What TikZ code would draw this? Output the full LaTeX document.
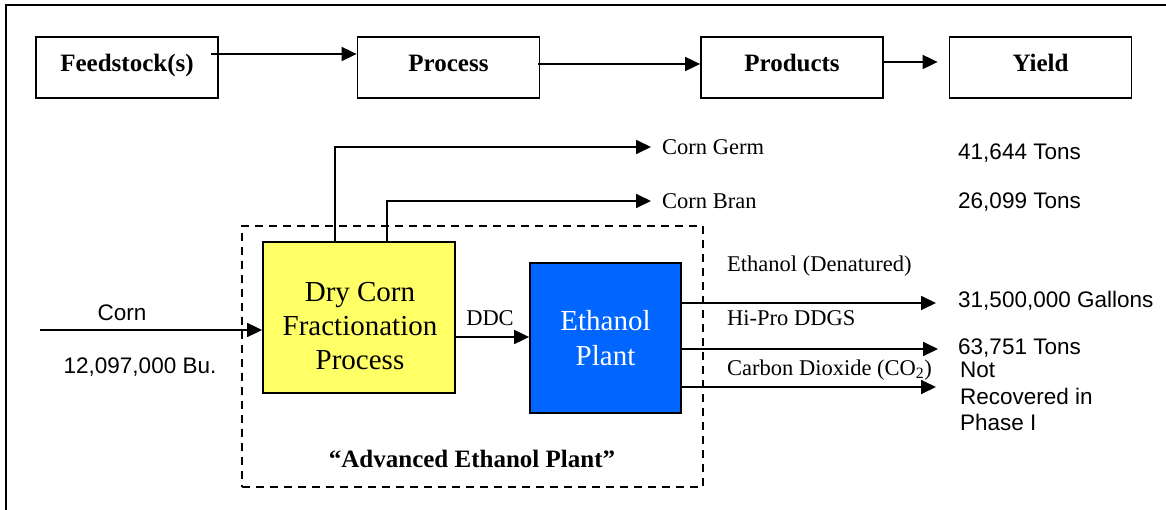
\documentclass[tikz,border=0pt]{standalone}
\usepackage{fontspec}
\setmainfont{Liberation Serif}
\newfontfamily\arialf{Liberation Sans}
\usetikzlibrary{arrows.meta}
\definecolor{yelfill}{HTML}{FFFF66}
\definecolor{blufill}{HTML}{0066FF}
\begin{document}
\begin{tikzpicture}[x=1pt,y=-1pt,
  topbox/.style={draw, line width=1.8pt, minimum width=182pt, minimum height=61pt, inner sep=0pt,
    text height=18pt, text depth=9pt, font=\fontsize{25}{30}\selectfont\bfseries},
  arr/.style={line width=1.8pt, -{Triangle[length=15pt,width=14pt]}},
  lbl/.style={inner sep=0pt, font=\fontsize{22.5}{26.5}\selectfont},
  albl/.style={inner sep=0pt, font=\arialf\fontsize{22.5}{26.5}\selectfont},
  bigtxt/.style={font=\fontsize{29}{34}\selectfont, align=center, inner sep=0pt},
  procbox/.style={draw, line width=1.8pt, inner sep=0pt}]
\path[fill=white, use as bounding box] (0,0) rectangle (1166,510);
\draw[line width=2pt] (6,510) -- (6,5) -- (1166,5);

% top row
\node[topbox] (feed) at (127,67.5) {Feedstock(s)};
\node[topbox] (proc) at (448.5,67.5) {Process};
\node[topbox] (prod) at (792,67.5) {Products};
\node[topbox] (yield) at (1040.5,67.5) {Yield};
\draw[arr] ([xshift=-8pt,yshift=13.5pt]feed.east) -- ([yshift=13.5pt]proc.west);
\draw[arr] ([xshift=-2pt,yshift=3.5pt]proc.east) -- ([yshift=3.5pt]prod.west);
\draw[arr] ([yshift=5.5pt]prod.east) -- ([xshift=-11pt,yshift=5.5pt]yield.west);

% plant boundary
\node[draw, line width=1.6pt, dash pattern=on 8pt off 6pt, minimum width=461pt, minimum height=261pt, inner sep=0pt] (aep) at (472.5,356.5) {};
\node[font=\fontsize{25}{30}\selectfont\bfseries, inner sep=0pt] (aeplbl) at (472,459) {“Advanced Ethanol Plant”};

% process boxes
\node[procbox, fill=yelfill, minimum width=192pt, minimum height=151pt] (fr) at (359,317.5) {};
\node[bigtxt] (frtxt) at (360,326) {Dry Corn\\Fractionation\\Process};
\node[procbox, fill=blufill, minimum width=151pt, minimum height=150pt, text=white, font=\fontsize{29}{35}\selectfont, align=center] (ep) at (605.5,338) {Ethanol\\Plant};

% corn input
\node[albl] (corn) at (122,313) {Corn};
\node[albl] (bu) at (140,367) {12,097,000 Bu.};
\coordinate (cornin) at (40,330);
\draw[arr] (cornin) -- (cornin -| fr.west);

% DDC
\coordinate (ddcy) at (0,337);
\draw[arr] (fr.east |- ddcy) -- (ep.west |- ddcy);
\node[lbl] (ddc) at (490,318) {DDC};

% germ and bran
\node[lbl, anchor=west] (germ) at (662,147) {Corn Germ};
\node[lbl, anchor=west] (bran) at (662,201) {Corn Bran};
\coordinate (gx) at (335,0);
\coordinate (bx) at (387,0);
\draw[arr] (gx |- fr.north) |- ([xshift=-11pt]germ.west);
\draw[arr] (bx |- fr.north) |- ([xshift=-11pt]bran.west);

% products
\node[lbl, anchor=west] (p1) at (727,266) {Ethanol (Denatured)};
\node[lbl, anchor=west] (p2) at (727,318) {Hi-Pro DDGS};
\node[lbl, anchor=west] (p3) at (727,370) {Carbon Dioxide (CO\textsubscript{2})};
\coordinate (e1) at (936,303);
\coordinate (e2) at (938,349);
\coordinate (e3) at (936,387);
\draw[arr] (ep.east |- e1) -- (e1);
\draw[arr] (ep.east |- e2) -- (e2);
\draw[arr] (ep.east |- e3) -- (e3);

% yields
\node[albl, anchor=west] (y1) at (958,153) {41,644 Tons};
\node[albl, anchor=west] (y2) at (958,202) {26,099 Tons};
\node[albl, anchor=west] (y3) at (958,301) {31,500,000 Gallons};
\node[albl, anchor=west] (y4) at (958,348) {63,751 Tons};
\node[albl, anchor=north west, align=left] (y5) at (960,362) {Not\\Recovered in\\Phase I};
\end{tikzpicture}
\end{document}
